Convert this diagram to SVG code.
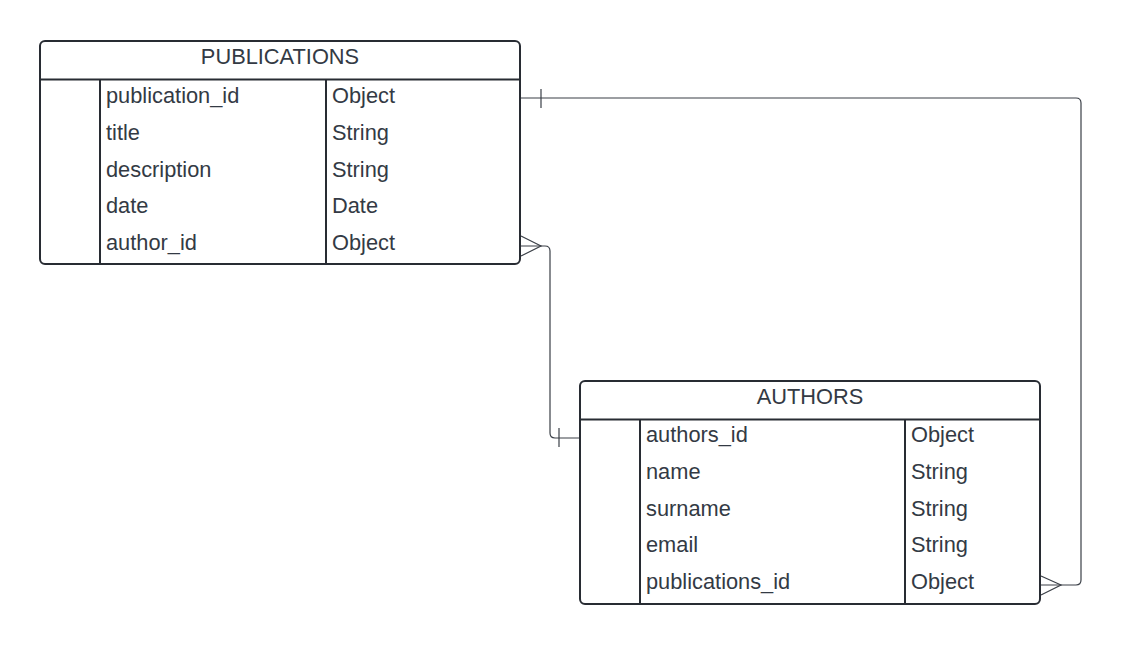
<svg xmlns="http://www.w3.org/2000/svg" width="1121" height="645" viewBox="0 0 1121 645">
<style>
.box{fill:#ffffff;stroke:#282c33;stroke-width:2}
.div{stroke:#282c33;stroke-width:2;fill:none}
.t{font-family:"Liberation Sans",Arial,sans-serif;font-size:21.8px;fill:#333a44}
.h{text-anchor:middle}
.c{fill:none;stroke:#3a3f47;stroke-width:1.2}
</style>
<rect width="1121" height="645" fill="#ffffff"/>
<g id="publications">
<rect class="box" x="40" y="41" width="480" height="223" rx="5"/>
<line class="div" x1="40" y1="79.5" x2="520" y2="79.5"/>
<line class="div" x1="100" y1="79.5" x2="100" y2="264"/>
<line class="div" x1="326" y1="79.5" x2="326" y2="264"/>
<text class="t h" x="280" y="64">PUBLICATIONS</text>
<text class="t" x="106" y="103">publication_id</text>
<text class="t" x="332" y="103">Object</text>
<text class="t" x="106" y="139.8">title</text>
<text class="t" x="332" y="139.8">String</text>
<text class="t" x="106" y="176.6">description</text>
<text class="t" x="332" y="176.6">String</text>
<text class="t" x="106" y="213.4">date</text>
<text class="t" x="332" y="213.4">Date</text>
<text class="t" x="106" y="250.2">author_id</text>
<text class="t" x="332" y="250.2">Object</text>
</g>
<g id="authors">
<rect class="box" x="580" y="381" width="460" height="223" rx="5"/>
<line class="div" x1="580" y1="419.5" x2="1040" y2="419.5"/>
<line class="div" x1="640" y1="419.5" x2="640" y2="604"/>
<line class="div" x1="905" y1="419.5" x2="905" y2="604"/>
<text class="t h" x="810" y="404">AUTHORS</text>
<text class="t" x="646" y="442">authors_id</text>
<text class="t" x="911" y="442">Object</text>
<text class="t" x="646" y="478.8">name</text>
<text class="t" x="911" y="478.8">String</text>
<text class="t" x="646" y="515.6">surname</text>
<text class="t" x="911" y="515.6">String</text>
<text class="t" x="646" y="552.4">email</text>
<text class="t" x="911" y="552.4">String</text>
<text class="t" x="646" y="589.2">publications_id</text>
<text class="t" x="911" y="589.2">Object</text>
</g>
<g id="connectors">
<path class="c" d="M521,98 H1076 Q1081,98 1081,103 V580 Q1081,585 1076,585 H1041"/>
<line class="c" x1="541" y1="89" x2="541" y2="108"/>
<path class="c" d="M1041,576 L1061,585 L1041,595"/>
<path class="c" d="M521,246 H545 Q550,246 550,251 V433 Q550,438 555,438 H579"/>
<line class="c" x1="559" y1="428" x2="559" y2="447"/>
<path class="c" d="M521,236 L541,246 L521,256"/>
</g>
</svg>
